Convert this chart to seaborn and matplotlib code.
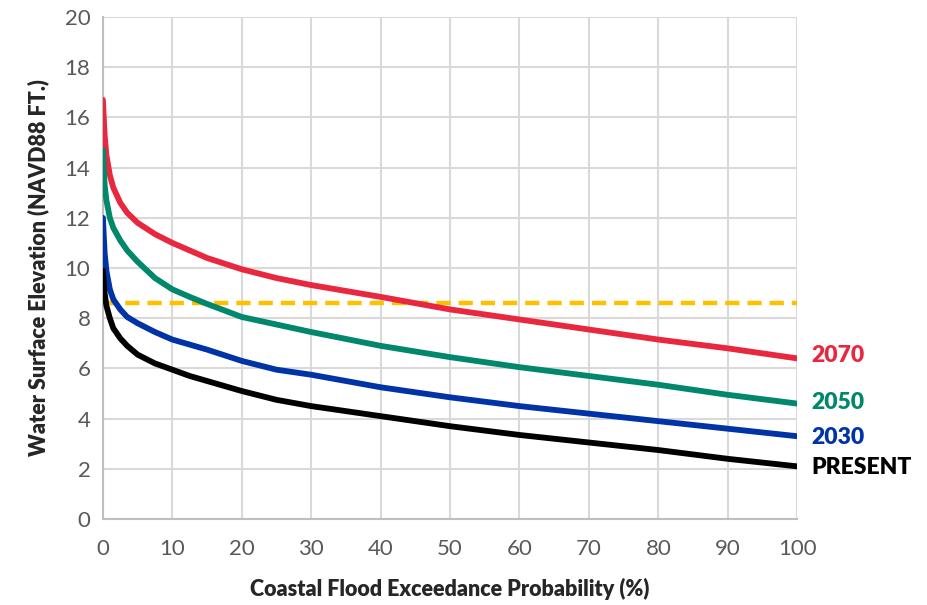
import numpy as np
import pandas as pd
import seaborn as sns
import matplotlib.pyplot as plt
from matplotlib.ticker import MultipleLocator

# exceedance probability (%)
prob = [0, 0.25, 0.5, 1, 1.5, 2.5, 3.5, 5, 7.5, 10, 12.5, 15, 20, 25, 30,
        40, 50, 60, 70, 80, 90, 100]

# water surface elevation (NAVD88 ft) per scenario
elev_2070 = [16.7, 15.3, 14.5, 13.7, 13.2, 12.6, 12.2, 11.8, 11.35, 11.0, 10.7,
             10.4, 9.95, 9.6, 9.32, 8.85, 8.35, 7.95, 7.55, 7.15, 6.8, 6.4]
elev_2050 = [14.7, 13.3, 12.7, 12.0, 11.6, 11.1, 10.7, 10.25, 9.6, 9.15, 8.85,
             8.57, 8.05, 7.75, 7.45, 6.9, 6.45, 6.05, 5.7, 5.35, 4.95, 4.6]
elev_2030 = [12.0, 10.6, 9.9, 9.15, 8.75, 8.35, 8.05, 7.8, 7.45, 7.15, 6.95,
             6.75, 6.3, 5.95, 5.75, 5.25, 4.85, 4.5, 4.2, 3.9, 3.6, 3.3]
elev_present = [9.9, 9.0, 8.5, 8.0, 7.6, 7.2, 6.9, 6.55, 6.2, 5.95, 5.7,
                5.5, 5.1, 4.75, 4.5, 4.1, 3.7, 3.35, 3.05, 2.75, 2.4, 2.1]

threshold = 8.6

scenarios = ['2070', '2050', '2030', 'PRESENT']
colors = {'2070': '#E8283F', '2050': '#00876C', '2030': '#0033A5', 'PRESENT': '#000000'}

df = pd.DataFrame({'prob': prob, '2070': elev_2070, '2050': elev_2050,
                   '2030': elev_2030, 'PRESENT': elev_present})
long = df.melt(id_vars='prob', var_name='scenario', value_name='elev')

sns.set_style('white')
plt.rcParams['font.family'] = ['Lato', 'DejaVu Sans']

fig = plt.figure(figsize=(9.27, 6.05), dpi=100)
ax = fig.add_axes([0.111, 0.142, 0.749, 0.830])

ax.plot([0, 100], [threshold, threshold], color='#FFC000', lw=3.2,
        dashes=(3.2, 1.8), zorder=2)

sns.lineplot(data=long, x='prob', y='elev', hue='scenario', hue_order=scenarios,
             palette=colors, linewidth=4.2, legend=False, ax=ax, zorder=3)

# end labels
ends = {'2070': elev_2070[-1], '2050': elev_2050[-1], '2030': elev_2030[-1],
        'PRESENT': elev_present[-1]}
offs = {'2070': 0.1, '2050': 0.05, '2030': -0.05, 'PRESENT': -0.05}
for s in scenarios:
    ax.text(102.0, ends[s] + offs[s], s, color=colors[s], fontsize=16.5,
            fontweight='heavy', va='center', ha='left', clip_on=False)

ax.set_xlim(0, 100)
ax.set_ylim(0, 20)
ax.set_xticks(range(0, 101, 10))
ax.set_yticks(range(0, 21, 2))
ax.yaxis.set_minor_locator(MultipleLocator(1))
ax.grid(True, which='major', color='#d9d9d9', lw=1.5)
ax.set_axisbelow(True)

for sp in ['top', 'right']:
    ax.spines[sp].set_visible(False)
for sp in ['left', 'bottom']:
    ax.spines[sp].set_color('#bfbfbf')
    ax.spines[sp].set_linewidth(1.5)

ax.tick_params(axis='y', which='both', direction='out', length=5, width=1.2,
               color='#bfbfbf', labelsize=16, labelcolor='#595959', pad=4)
ax.tick_params(axis='x', which='both', length=0, labelsize=16,
               labelcolor='#595959', pad=14)

ax.set_xlabel('Coastal Flood Exceedance Probability (%)', fontsize=15.5,
              fontweight='heavy', labelpad=14)
ax.set_ylabel('Water Surface Elevation (NAVD88 FT.)', fontsize=15.5,
              fontweight='heavy', labelpad=11)

fig.savefig('out.png', dpi=100)
